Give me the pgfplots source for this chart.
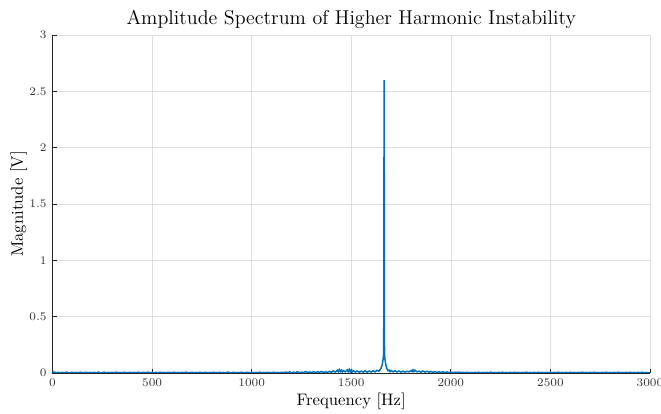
\documentclass[border=0pt]{standalone}
\usepackage{pgfplots}
\pgfplotsset{compat=1.18}
\usetikzlibrary{calc}
\definecolor{mblue}{RGB}{0,114,189}
\begin{document}
\begin{tikzpicture}
\begin{axis}[
  scale only axis,
  width=358.5pt, height=202.8pt,
  xmin=0, xmax=3000, ymin=0, ymax=3,
  xtick={0,500,...,3000}, ytick={0,0.5,...,3},
  scaled x ticks=false,
  /pgf/number format/1000 sep={},
  axis lines*=left,
  axis line style={black!85, line width=0.5pt},
  tick align=inside,
  major tick length=2.6pt,
  tick style={black!85, line width=0.5pt},
  grid=major,
  major grid style={black!13, line width=0.4pt},
  ticklabel style={font=\scriptsize, text=black!80},
  yticklabel style={/pgf/number format/fixed},
  title={Amplitude Spectrum of Higher Harmonic Instability},
  title style={font=\large, yshift=-5.5pt},
  xlabel={Frequency [Hz]},
  ylabel={Magnitude [V]},
  label style={font=\normalsize},
  xlabel style={yshift=3pt},
  ylabel style={yshift=-5.5pt},
]
\addplot[mblue, line width=0.9pt] coordinates {
(0,0.022)(2,0.010)(5,0.004)(10,0.007)(20,0.003)(30,0.006)(40,0.002)(50,0.005)
(60,0.003)(70,0.008)(80,0.002)(90,0.004)(100,0.006)(110,0.002)(120,0.005)(130,0.003)
(140,0.007)(150,0.002)(160,0.004)(170,0.006)(180,0.003)(190,0.005)(200,0.002)(210,0.006)
(220,0.003)(230,0.008)(240,0.002)(250,0.004)(260,0.007)(270,0.002)(280,0.005)(290,0.003)
(300,0.006)(310,0.002)(320,0.008)(330,0.003)(340,0.005)(350,0.002)(360,0.007)(370,0.003)
(380,0.004)(390,0.006)(400,0.002)(410,0.005)(420,0.003)(430,0.007)(440,0.002)(450,0.004)
(460,0.006)(470,0.003)(480,0.008)(490,0.002)(500,0.005)(510,0.003)(520,0.006)(530,0.002)
(540,0.007)(550,0.003)(560,0.005)(570,0.002)(580,0.006)(590,0.004)(600,0.002)(610,0.007)
(620,0.003)(630,0.005)(640,0.002)(650,0.006)(660,0.003)(670,0.008)(680,0.002)(690,0.004)
(700,0.006)(710,0.003)(720,0.005)(730,0.002)(740,0.007)(750,0.003)(760,0.004)(770,0.006)
(780,0.002)(790,0.005)(800,0.003)(810,0.007)(820,0.002)(830,0.004)(840,0.006)(850,0.003)
(860,0.005)(870,0.002)(880,0.008)(890,0.003)(900,0.004)(910,0.006)(920,0.002)(930,0.005)
(940,0.003)(950,0.007)(960,0.002)(970,0.004)(980,0.006)(990,0.003)(1000,0.005)(1010,0.002)
(1020,0.006)(1030,0.003)(1040,0.008)(1050,0.002)(1060,0.005)(1070,0.003)(1080,0.006)(1090,0.004)
(1100,0.002)(1110,0.007)(1120,0.003)(1130,0.005)(1140,0.002)(1150,0.006)(1160,0.003)(1170,0.008)
(1180,0.004)(1190,0.010)(1200,0.003)(1210,0.007)(1220,0.004)(1230,0.011)(1240,0.003)(1250,0.008)
(1260,0.005)(1270,0.012)(1280,0.004)(1290,0.009)(1300,0.005)(1310,0.011)(1320,0.004)(1330,0.010)
(1340,0.006)(1350,0.013)(1360,0.005)(1370,0.010)(1380,0.006)(1390,0.014)(1400,0.007)(1410,0.018)
(1420,0.008)(1430,0.024)(1435,0.010)(1440,0.030)(1445,0.012)(1450,0.026)(1455,0.009)(1460,0.022)
(1470,0.010)(1480,0.028)(1485,0.012)(1490,0.032)(1495,0.011)(1500,0.027)(1505,0.010)(1510,0.022)
(1520,0.008)(1530,0.018)(1540,0.007)(1550,0.016)(1560,0.008)(1570,0.019)(1580,0.007)(1590,0.017)
(1600,0.009)(1610,0.020)(1620,0.010)(1630,0.024)(1640,0.015)(1645,0.030)(1650,0.045)(1655,0.070)
(1658,0.100)(1661,0.135)(1663,0.180)(1665,2.600)(1667,0.170)(1669,0.125)(1672,0.090)(1675,0.060)
(1680,0.035)(1685,0.020)(1690,0.026)(1695,0.012)(1700,0.022)(1710,0.010)(1720,0.020)(1730,0.009)
(1740,0.018)(1750,0.008)(1760,0.016)(1770,0.009)(1780,0.015)(1790,0.010)(1800,0.022)(1805,0.012)
(1810,0.028)(1815,0.013)(1820,0.025)(1830,0.010)(1840,0.016)(1850,0.007)(1860,0.018)(1870,0.008)
(1880,0.015)(1890,0.007)(1900,0.013)(1910,0.006)(1920,0.012)(1930,0.005)(1940,0.011)(1950,0.005)
(1960,0.010)(1970,0.004)(1980,0.009)(1990,0.004)(2000,0.008)(2010,0.003)(2020,0.007)(2030,0.004)
(2040,0.008)(2050,0.003)(2060,0.006)(2070,0.002)(2080,0.007)(2090,0.003)(2100,0.005)(2110,0.002)
(2120,0.006)(2130,0.003)(2140,0.007)(2150,0.002)(2160,0.005)(2170,0.003)(2180,0.006)(2190,0.002)
(2200,0.008)(2210,0.003)(2220,0.005)(2230,0.002)(2240,0.006)(2250,0.003)(2260,0.007)(2270,0.002)
(2280,0.005)(2290,0.003)(2300,0.006)(2310,0.002)(2320,0.007)(2330,0.003)(2340,0.005)(2350,0.002)
(2360,0.006)(2370,0.003)(2380,0.008)(2390,0.002)(2400,0.005)(2410,0.003)(2420,0.006)(2430,0.002)
(2440,0.007)(2450,0.003)(2460,0.005)(2470,0.002)(2480,0.006)(2490,0.003)(2500,0.005)(2510,0.002)
(2520,0.006)(2530,0.003)(2540,0.007)(2550,0.002)(2560,0.005)(2570,0.003)(2580,0.006)(2590,0.002)
(2600,0.007)(2610,0.003)(2620,0.005)(2630,0.002)(2640,0.006)(2650,0.003)(2660,0.008)(2670,0.002)
(2680,0.005)(2690,0.003)(2700,0.006)(2710,0.002)(2720,0.007)(2730,0.003)(2740,0.005)(2750,0.002)
(2760,0.006)(2770,0.003)(2780,0.007)(2790,0.002)(2800,0.005)(2810,0.003)(2820,0.006)(2830,0.002)
(2840,0.007)(2850,0.003)(2860,0.005)(2870,0.002)(2880,0.006)(2890,0.003)(2900,0.007)(2910,0.002)
(2920,0.005)(2930,0.003)(2940,0.006)(2950,0.002)(2960,0.007)(2970,0.003)(2980,0.005)(2990,0.002)
(3000,0.004)
};
\end{axis}
\pgfresetboundingbox
\path[use as bounding box] ($(current axis.south west)+(-31.5pt,-24.6pt)$) rectangle ($(current axis.north east)+(6.6pt,21pt)$);
\end{tikzpicture}
\end{document}
